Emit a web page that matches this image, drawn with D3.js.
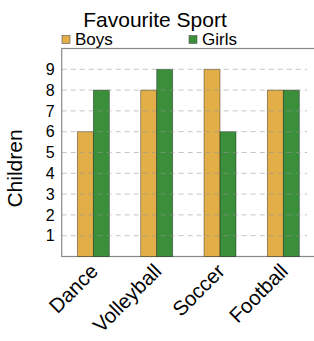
<!DOCTYPE html>
<html>
<head>
<meta charset="utf-8">
<script src="https://cdn.jsdelivr.net/npm/d3@7"></script>
<style>
  body { margin: 0; background: #fff; }
  text { font-family: "Liberation Sans", Arial, sans-serif; }
</style>
</head>
<body>
<script>
var sports = ['Dance', 'Volleyball', 'Soccer', 'Football'];
var boys = [6, 8, 9, 8];
var girls = [8, 9, 6, 8];
var seriesNames = ['Boys', 'Girls'];
var colors = ['#e1ae48', '#3b8f3b'];
var yTicks = [1, 2, 3, 4, 5, 6, 7, 8, 9];

var width = 314, height = 341;
var plotLeft = 61.7, plotRight = 315, plotTop = 48.5, plotBottom = 256.5;

var svg = d3.select('body').append('svg')
    .attr('width', width)
    .attr('height', height);

var x = d3.scaleBand().domain(sports).range([plotLeft, plotRight]).paddingInner(0.495).paddingOuter(0.2475);
var xs = d3.scaleBand().domain(seriesNames).range([0, x.bandwidth()]);
var y = d3.scaleLinear().domain([0, 10]).range([plotBottom, plotTop]);

// title
svg.append('text')
    .attr('x', 155).attr('y', 26.5)
    .attr('text-anchor', 'middle')
    .attr('font-size', 21)
    .text('Favourite Sport');

// legend
var legendX = [62, 189];
seriesNames.forEach(function(s, i) {
    svg.append('rect')
        .attr('x', legendX[i]).attr('y', 35.5)
        .attr('width', 8).attr('height', 8)
        .attr('fill', colors[i])
        .attr('stroke', '#555').attr('stroke-width', 0.6);
    svg.append('text')
        .attr('x', legendX[i] + 13).attr('y', 44.5)
        .attr('font-size', 17)
        .text(s);
});

// frame
svg.append('rect')
    .attr('x', plotLeft).attr('y', plotTop)
    .attr('width', plotRight - plotLeft + 10).attr('height', plotBottom - plotTop)
    .attr('fill', 'none')
    .attr('stroke', '#888').attr('stroke-width', 1.2);

// bars
var data = sports.map(function(s, i) {
    return { sport: s, values: [boys[i], girls[i]] };
});
var groups = svg.selectAll('g.grp')
    .data(data)
    .enter().append('g')
    .attr('class', 'grp')
    .attr('transform', function(d) { return 'translate(' + x(d.sport) + ',0)'; });
groups.selectAll('rect')
    .data(function(d) { return d.values; })
    .enter().append('rect')
    .attr('x', function(d, i) { return xs(seriesNames[i]); })
    .attr('y', function(d) { return y(d); })
    .attr('width', xs.bandwidth())
    .attr('height', function(d) { return plotBottom - y(d); })
    .attr('fill', function(d, i) { return colors[i]; })
    .attr('stroke', 'rgba(0,0,0,0.45)')
    .attr('stroke-width', 0.8);

// grid (drawn over bars, faint)
svg.selectAll('line.grid')
    .data(yTicks)
    .enter().append('line')
    .attr('class', 'grid')
    .attr('x1', plotLeft).attr('x2', 307)
    .attr('y1', function(d) { return y(d); })
    .attr('y2', function(d) { return y(d); })
    .attr('stroke', 'rgba(150,150,150,0.55)')
    .attr('stroke-width', 1)
    .attr('stroke-dasharray', '5,4');

// y axis labels
var yAxis = d3.axisLeft(y).tickValues(yTicks).tickSize(0).tickPadding(7);
var ya = svg.append('g')
    .attr('transform', 'translate(' + plotLeft + ',0)')
    .call(yAxis);
ya.select('.domain').remove();
ya.selectAll('text')
    .attr('font-size', 16)
    .attr('fill', '#000')
    .style('font-family', '"Liberation Sans", Arial, sans-serif');

// y title
svg.append('text')
    .attr('transform', 'translate(22,' + ((plotTop + plotBottom) / 2 + 16) + ') rotate(-90)')
    .attr('text-anchor', 'middle')
    .attr('font-size', 21)
    .text('Children');

// x axis labels
var xAxis = d3.axisBottom(x).tickSize(0).tickPadding(0);
var xa = svg.append('g')
    .attr('transform', 'translate(0,' + plotBottom + ')')
    .call(xAxis);
xa.select('.domain').remove();
xa.selectAll('text')
    .attr('font-size', 20.5)
    .attr('fill', '#000')
    .style('font-family', '"Liberation Sans", Arial, sans-serif')
    .attr('text-anchor', 'end')
    .attr('dy', 0)
    .attr('transform', 'translate(6,16) rotate(-45)');
</script>
</body>
</html>
